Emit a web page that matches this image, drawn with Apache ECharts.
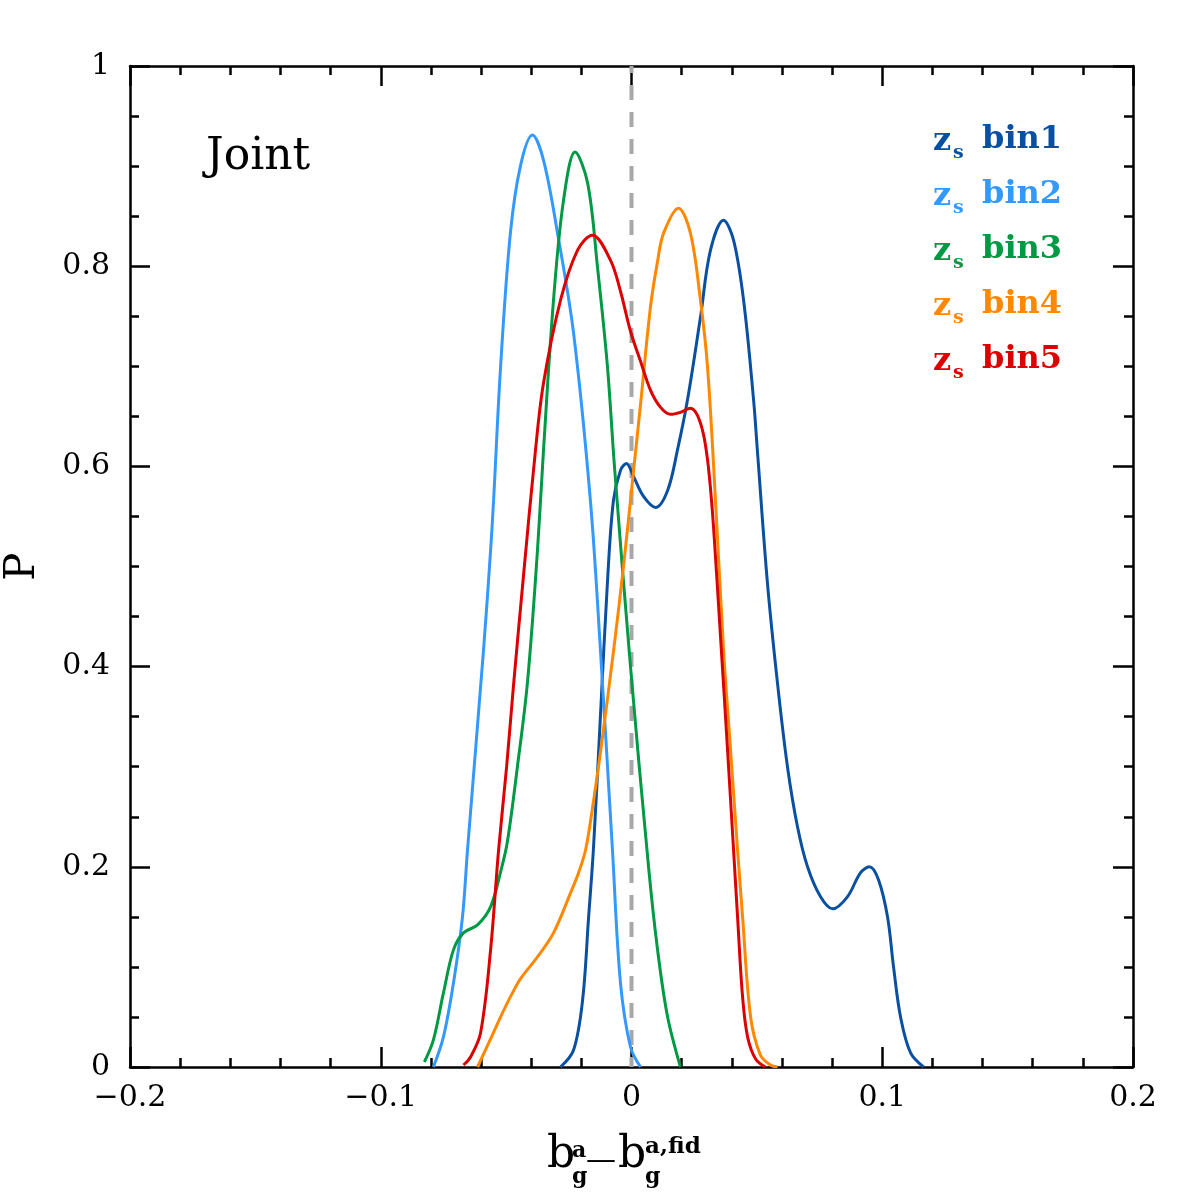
<!DOCTYPE html>
<html>
<head>
<meta charset="utf-8">
<script src="https://cdn.jsdelivr.net/npm/echarts@6/dist/echarts.min.js"></script>
<style>
  html, body { margin: 0; padding: 0; background: #fff; }
  #chart { width: 1196px; height: 1196px; }
</style>
</head>
<body>
<div id="chart"></div>
<script>
// 后验分布曲线 (x, P) —— 从原图读取
const bin1 = [[-0.0283, 0], [-0.0231, 0.017], [-0.0195, 0.067], [-0.0171, 0.15], [-0.0152, 0.217],
  [-0.0124, 0.35], [-0.0096, 0.484], [-0.0072, 0.566], [-0.0044, 0.596], [-0.0020, 0.603],
  [0.0008, 0.59], [0.0048, 0.57], [0.0096, 0.559], [0.0144, 0.576], [0.0183, 0.616],
  [0.0223, 0.666], [0.0275, 0.749], [0.0315, 0.816], [0.0367, 0.846], [0.0407, 0.826],
  [0.0447, 0.766], [0.0487, 0.666], [0.0502, 0.616], [0.0542, 0.484], [0.0582, 0.384],
  [0.0622, 0.3], [0.0662, 0.24], [0.0702, 0.2], [0.0754, 0.17], [0.0802, 0.158],
  [0.0861, 0.17], [0.0913, 0.194], [0.0949, 0.2], [0.0985, 0.187], [0.1021, 0.15],
  [0.1045, 0.1], [0.1073, 0.05], [0.1113, 0.014], [0.1165, 0]]
const bin2 = [[-0.0790, 0], [-0.0750, 0.03], [-0.0710, 0.084], [-0.0674, 0.15], [-0.0654, 0.217],
  [-0.0590, 0.417], [-0.0562, 0.516], [-0.0550, 0.566], [-0.0522, 0.7], [-0.0483, 0.833],
  [-0.0443, 0.9], [-0.0395, 0.931], [-0.0351, 0.906], [-0.0295, 0.833], [-0.0231, 0.733],
  [-0.0164, 0.566], [-0.0124, 0.417], [-0.0076, 0.217], [-0.0044, 0.084], [-0.0004, 0.02],
  [0.0036, 0]]
const bin3 = [[-0.0826, 0.005], [-0.0790, 0.027], [-0.0750, 0.074], [-0.0710, 0.117], [-0.0670, 0.134],
  [-0.0614, 0.142], [-0.0562, 0.160], [-0.0522, 0.195], [-0.0495, 0.225], [-0.0455, 0.30],
  [-0.0415, 0.384], [-0.0375, 0.516], [-0.0351, 0.616], [-0.0311, 0.766], [-0.0271, 0.866],
  [-0.0225, 0.914], [-0.0175, 0.883], [-0.0136, 0.8], [-0.0096, 0.7], [-0.0068, 0.6],
  [-0.0004, 0.4], [0.0068, 0.2], [0.0104, 0.117], [0.0144, 0.05], [0.0195, 0]]
const bin4 = [[-0.0614, 0], [-0.0562, 0.028], [-0.0522, 0.05], [-0.0483, 0.07], [-0.0443, 0.088],
  [-0.0375, 0.11], [-0.0311, 0.134], [-0.0243, 0.174], [-0.0211, 0.194], [-0.0183, 0.217],
  [-0.0156, 0.258], [-0.0124, 0.314], [-0.0072, 0.415], [-0.0032, 0.5], [0.0008, 0.595],
  [0.0036, 0.662], [0.0076, 0.76], [0.0104, 0.805], [0.0128, 0.833], [0.0187, 0.858],
  [0.0235, 0.833], [0.0275, 0.766], [0.0303, 0.7], [0.0335, 0.566], [0.0367, 0.417],
  [0.0395, 0.317], [0.0423, 0.217], [0.0443, 0.15], [0.0475, 0.05], [0.0514, 0.012],
  [0.0554, 0.002], [0.0582, 0]]
const bin5 = [[-0.0670, 0.002], [-0.0642, 0.01], [-0.0602, 0.034], [-0.0562, 0.117], [-0.0530, 0.217],
  [-0.0498, 0.30], [-0.0471, 0.38], [-0.0431, 0.49], [-0.0383, 0.616], [-0.0351, 0.683],
  [-0.0283, 0.766], [-0.0215, 0.816], [-0.0156, 0.831], [-0.0084, 0.806], [-0.0044, 0.775],
  [-0.0004, 0.735], [0.0036, 0.705], [0.0076, 0.676], [0.0116, 0.659], [0.0156, 0.652],
  [0.0195, 0.654], [0.0235, 0.658], [0.0263, 0.651], [0.0287, 0.632], [0.0303, 0.607],
  [0.0315, 0.578], [0.0327, 0.54], [0.0355, 0.43], [0.0383, 0.317], [0.0407, 0.217],
  [0.0423, 0.15], [0.0443, 0.07], [0.0463, 0.03], [0.0495, 0.008], [0.0534, 0]]
const zeroLine = [[0, 0], [0, 1]]

const binNames = ['bin1', 'bin2', 'bin3', 'bin4', 'bin5']
const binColors = ['#0a50a0', '#3399ff', '#009944', '#ff8800', '#dd0000']
const xTicks = [-0.2, -0.1, 0, 0.1, 0.2]
const yTicks = [0, 0.2, 0.4, 0.6, 0.8, 1]

const FONT = 'DejaVu Serif'
const chart = echarts.init(document.getElementById('chart'))

const axisCommon = {
  axisLine: { show: true, onZero: false, lineStyle: { color: '#000', width: 2.5 } },
  axisTick: { show: true, inside: true, length: 20, lineStyle: { color: '#000', width: 2.5 } },
  minorTick: { show: true, length: 9, lineStyle: { color: '#000', width: 2.5 } },
  splitLine: { show: false }
}

const fmtX = v => {
  const r = Math.round(v * 10) / 10
  if (!xTicks.includes(r)) return ''
  return r < 0 ? '\u2212' + String(-r) : String(r)
}
const fmtY = v => {
  const r = Math.round(v * 10) / 10
  return yTicks.includes(r) ? String(r) : ''
}

// 图例和坐标轴标题用 graphic 画上下标
const legendItems = []
binNames.forEach((name, i) => {
  const y = 147 + i * 55
  legendItems.push({
    type: 'text', left: 933, top: y - 21,
    style: { text: 'z', fill: binColors[i], font: 'bold 32px ' + FONT }
  })
  legendItems.push({
    type: 'text', left: 953, top: y - 3,
    style: { text: 's', fill: binColors[i], font: 'bold 19px ' + FONT }
  })
  legendItems.push({
    type: 'text', left: 982, top: y - 23,
    style: { text: name, fill: binColors[i], font: 'bold 32px ' + FONT }
  })
})

const xName = [
  { type: 'text', left: 547, top: 1134, style: { text: 'b', fill: '#000', font: '44px ' + FONT } },
  { type: 'text', left: 572, top: 1140, style: { text: 'a', fill: '#000', font: 'bold 22px ' + FONT } },
  { type: 'text', left: 572, top: 1166, style: { text: 'g', fill: '#000', font: 'bold 22px ' + FONT } },
  { type: 'text', left: 586, top: 1146, style: { text: '\u2014', fill: '#000', font: '30px ' + FONT } },
  { type: 'text', left: 618, top: 1134, style: { text: 'b', fill: '#000', font: '44px ' + FONT } },
  { type: 'text', left: 645, top: 1136, style: { text: 'a,fid', fill: '#000', font: 'bold 23px ' + FONT } },
  { type: 'text', left: 645, top: 1166, style: { text: 'g', fill: '#000', font: 'bold 22px ' + FONT } }
]

const lineSeries = [bin1, bin2, bin3, bin4, bin5].map((d, i) => ({
  name: binNames[i],
  type: 'line',
  data: d,
  showSymbol: false,
  smooth: 0.35,
  z: 3,
  lineStyle: { color: binColors[i], width: 3 },
  itemStyle: { color: binColors[i] }
}))

chart.setOption({
  animation: false,
  backgroundColor: '#fff',
  grid: { left: 130, right: 63, top: 66, bottom: 129, containLabel: false, outerBoundsMode: 'none' },
  xAxis: [
    Object.assign({}, axisCommon, {
      type: 'value', min: -0.2, max: 0.2, interval: 0.1,
      minorTick: Object.assign({}, axisCommon.minorTick, { splitNumber: 5 }),
      axisLabel: { formatter: fmtX, color: '#000', fontFamily: FONT, fontSize: 30, margin: 16 }
    }),
    Object.assign({}, axisCommon, {
      type: 'value', position: 'top', min: -0.2, max: 0.2, interval: 0.1,
      minorTick: Object.assign({}, axisCommon.minorTick, { splitNumber: 5 }),
      axisLabel: { show: false }
    })
  ],
  yAxis: [
    Object.assign({}, axisCommon, {
      type: 'value', min: 0, max: 1, interval: 0.2,
      minorTick: Object.assign({}, axisCommon.minorTick, { splitNumber: 4 }),
      axisLabel: { formatter: fmtY, color: '#000', fontFamily: FONT, fontSize: 30, margin: 20 },
      name: 'P', nameLocation: 'middle', nameGap: 86, nameRotate: 90,
      nameTextStyle: { color: '#000', fontFamily: FONT, fontSize: 42 }
    }),
    Object.assign({}, axisCommon, {
      type: 'value', position: 'right', min: 0, max: 1, interval: 0.2,
      minorTick: Object.assign({}, axisCommon.minorTick, { splitNumber: 4 }),
      axisLabel: { show: false }
    })
  ],
  graphic: [
    { type: 'text', left: 206, top: 136, style: { text: 'Joint', fill: '#000', font: '44px ' + FONT } }
  ].concat(legendItems, xName),
  series: [
    {
      name: 'zero',
      type: 'line',
      data: zeroLine,
      showSymbol: false,
      z: 2,
      lineStyle: { color: '#a8a8a8', width: 4, type: [15, 12], dashOffset: -22 }
    }
  ].concat(lineSeries)
})
</script>
</body>
</html>
